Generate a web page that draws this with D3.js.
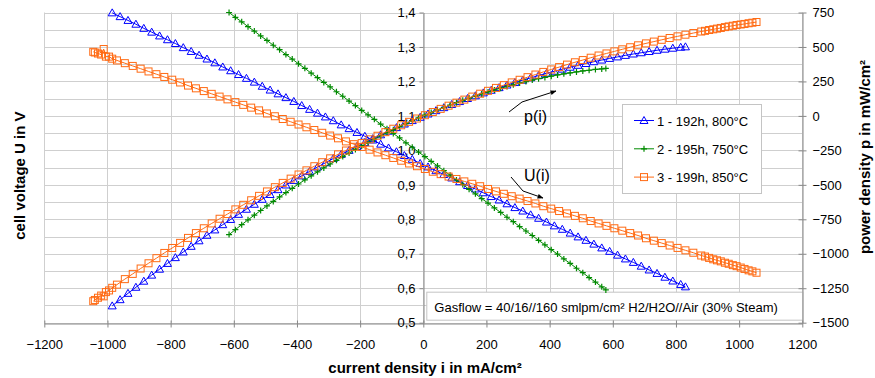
<!DOCTYPE html>
<html><head><meta charset="utf-8">
<script src="https://cdn.jsdelivr.net/npm/d3@7"></script>
<style>body{margin:0;background:#fff}svg{display:block;font-family:"Liberation Sans",Arial,sans-serif}</style>
</head><body><svg id="c" width="875" height="378"></svg>
<script>
// Series 1: 192h, 800°C
const s1_i = [-985,-960,-935,-910,-885,-860,-835,-810,-785,-760,-735,-710,-685,-660,-635,-610,-585,-560,-535,-510,-485,-460,-435,-410,-385,-360,-335,-310,-285,-260,-235,-210,-185,-160,-135,-110,-85,-60,-35,-10,15,40,65,90,115,140,165,190,215,240,265,290,315,340,365,390,415,440,465,490,515,540,565,590,615,640,665,690,715,740,765,790,815,830];
const s1_U = [1.399,1.388,1.377,1.366,1.354,1.343,1.332,1.321,1.310,1.298,1.287,1.276,1.265,1.254,1.242,1.231,1.220,1.209,1.198,1.186,1.175,1.164,1.153,1.142,1.130,1.119,1.108,1.097,1.086,1.074,1.063,1.052,1.041,1.030,1.018,1.007,0.996,0.985,0.974,0.962,0.952,0.941,0.930,0.920,0.909,0.898,0.888,0.877,0.866,0.856,0.845,0.834,0.824,0.813,0.803,0.792,0.781,0.771,0.760,0.749,0.739,0.728,0.717,0.707,0.696,0.685,0.675,0.664,0.653,0.643,0.632,0.621,0.611,0.604];
const s1_p = [-1378,-1333,-1287,-1243,-1199,-1155,-1112,-1070,-1028,-987,-946,-906,-866,-827,-789,-751,-714,-677,-641,-605,-570,-535,-501,-468,-435,-403,-371,-340,-309,-279,-250,-221,-193,-165,-137,-111,-85,-59,-34,-10,14,38,60,83,104,126,146,167,186,205,224,242,259,276,293,309,324,339,353,367,380,393,405,417,428,439,449,458,467,476,484,491,498,501];
// Series 2: 195h, 750°C
const s2_i = [-615,-595,-575,-555,-535,-515,-495,-475,-455,-435,-415,-395,-375,-355,-335,-315,-295,-275,-255,-235,-215,-195,-175,-155,-135,-115,-95,-75,-55,-35,-15,5,25,45,65,85,105,125,145,165,185,205,225,245,265,285,305,325,345,365,385,405,425,445,465,485,505,525,545,565,578];
const s2_U = [1.400,1.386,1.373,1.359,1.346,1.332,1.319,1.305,1.292,1.278,1.265,1.251,1.238,1.224,1.211,1.197,1.184,1.170,1.157,1.143,1.130,1.116,1.103,1.090,1.076,1.063,1.049,1.036,1.022,1.009,0.995,0.982,0.968,0.955,0.941,0.928,0.914,0.901,0.887,0.874,0.860,0.847,0.833,0.820,0.806,0.793,0.779,0.766,0.753,0.739,0.726,0.712,0.699,0.685,0.672,0.658,0.645,0.631,0.618,0.604,0.595];
const s2_p = [-861,-825,-789,-754,-720,-686,-653,-620,-588,-556,-525,-494,-464,-435,-406,-377,-349,-322,-295,-269,-243,-218,-193,-169,-145,-122,-100,-78,-56,-35,-15,5,24,43,61,79,96,113,129,144,159,174,188,201,214,226,238,249,260,270,279,288,297,305,312,319,326,331,337,341,344];
// Series 3: 199h, 850°C
const s3_i = [-1045,-1040,-1030,-1020,-1012,-1005,-995,-985,-970,-945,-920,-895,-870,-845,-820,-795,-770,-745,-720,-695,-670,-645,-620,-595,-570,-545,-520,-495,-470,-445,-420,-395,-370,-345,-320,-295,-270,-245,-220,-195,-170,-145,-120,-95,-70,-45,-20,5,30,55,80,105,130,155,180,205,230,255,280,305,330,355,380,405,430,455,480,505,530,555,580,605,630,655,680,705,730,755,780,805,830,855,880,892,905,918,930,942,955,967,980,992,1005,1017,1030,1042,1055];
const s3_U = [1.286,1.284,1.281,1.278,1.294,1.272,1.272,1.266,1.261,1.253,1.245,1.237,1.229,1.221,1.213,1.205,1.197,1.188,1.180,1.172,1.164,1.156,1.148,1.140,1.132,1.124,1.116,1.107,1.099,1.091,1.083,1.075,1.067,1.059,1.051,1.043,1.035,1.026,1.018,1.010,1.002,0.994,0.986,0.978,0.970,0.962,0.954,0.946,0.938,0.931,0.924,0.917,0.910,0.903,0.896,0.888,0.881,0.874,0.867,0.860,0.853,0.846,0.838,0.831,0.824,0.817,0.810,0.803,0.795,0.788,0.781,0.774,0.767,0.760,0.753,0.745,0.738,0.731,0.724,0.717,0.710,0.703,0.695,0.692,0.688,0.684,0.681,0.678,0.674,0.671,0.667,0.664,0.660,0.656,0.652,0.649,0.645];
const s3_p = [-1344,-1335,-1319,-1303,-1309,-1278,-1266,-1247,-1224,-1184,-1146,-1107,-1069,-1032,-994,-958,-921,-885,-850,-815,-780,-746,-712,-678,-645,-612,-580,-548,-517,-486,-455,-425,-395,-365,-336,-308,-279,-251,-224,-197,-170,-144,-118,-93,-68,-43,-19,5,28,51,74,96,118,140,161,182,203,223,243,262,281,300,319,337,354,372,389,405,422,438,453,468,483,498,512,526,539,552,565,577,589,601,612,617,623,628,633,638,644,649,654,659,663,667,672,676,681];

const xTicks = [-1200,-1000,-800,-600,-400,-200,0,200,400,600,800,1000,1200];
const uTicks = [1.4,1.3,1.2,1.1,1.0,0.9,0.8,0.7,0.6,0.5];
const pTicks = [750,500,250,0,-250,-500,-750,-1000,-1250,-1500];
const seriesNames = ["1 - 192h, 800°C","2 - 195h, 750°C","3 - 199h, 850°C"];
const seriesColors = ["#0000ff","#008a00","#ff6a13"];

const svg = d3.select("#c");
const L=44.3, R=802.3, T=12.5, B=322.7;
const x = d3.scaleLinear().domain([-1200,1200]).range([L,R]);
const yU = d3.scaleLinear().domain([0.5,1.4]).range([B,T]);
const yP = d3.scaleLinear().domain([-1500,750]).range([B,T]);

// gridlines
const grid = svg.append("g").attr("stroke","#cfcfcf").attr("stroke-width",1);
d3.range(0.5,1.4001,0.05).forEach(v=>{
  const y=Math.round(yU(v))+0.5;
  grid.append("line").attr("x1",L).attr("x2",R).attr("y1",y).attr("y2",y);
});
xTicks.forEach(v=>{
  const xx=Math.round(x(v))+0.5;
  grid.append("line").attr("x1",xx).attr("x2",xx).attr("y1",T).attr("y2",B);
});

// annotation box
const ann = svg.append("g");
ann.append("rect").attr("x",x(0)+3.5).attr("y",yU(0.59)+0.5).attr("width",R-x(0)-3).attr("height",28)
  .attr("fill","#fff").attr("stroke","#c4c4c4");
ann.append("text").attr("x",x(0)+11).attr("y",yU(0.59)+20).attr("font-size",13).attr("fill","#000")
  .text("Gasflow = 40/16//160 smlpm/cm² H2/H2O//Air (30% Steam)");

// axes
const axB = svg.append("g").attr("transform",`translate(0,${Math.round(B)+0.5})`)
  .call(d3.axisBottom(x).tickValues(xTicks).tickSize(4).tickSizeOuter(0).tickFormat(d3.format("d")));
axB.select(".domain").attr("stroke","#888");
axB.selectAll(".tick line").attr("stroke","#888").attr("y1",-3);
axB.selectAll("text").attr("font-size",13).attr("font-family","Liberation Sans, Arial").attr("y",10).attr("dy","1.2em").attr("fill","#000");

const fmtU = v=>d3.format(".1f")(v).replace(".",",");
const axU = svg.append("g").attr("transform",`translate(${Math.round(x(0))+0.5},0)`)
  .call(d3.axisLeft(yU).tickValues(uTicks).tickSize(4).tickSizeOuter(0).tickFormat(fmtU));
axU.select(".domain").attr("stroke","#888");
axU.selectAll(".tick line").attr("stroke","#888");
axU.selectAll("text").attr("font-size",13).attr("font-family","Liberation Sans, Arial").attr("x",-8).attr("fill","#000");

const axP = svg.append("g").attr("transform",`translate(${Math.round(R)+0.5},0)`)
  .call(d3.axisRight(yP).tickValues(pTicks).tickSize(4).tickSizeOuter(0).tickFormat(d3.format("d")));
axP.select(".domain").attr("stroke","#888");
axP.selectAll(".tick line").attr("stroke","#888").attr("x1",-4);
axP.selectAll("text").attr("font-size",13).attr("font-family","Liberation Sans, Arial").attr("x",10).attr("fill","#000");

// series
const series = [
  {i:s1_i,U:s1_U,p:s1_p,m:"tri"},
  {i:s2_i,U:s2_U,p:s2_p,m:"plus"},
  {i:s3_i,U:s3_U,p:s3_p,m:"sq"}
];
function marker(g, m, cx, cy, col){
  if(m==="tri"){
    g.append("path").attr("d",`M${cx},${cy-4}L${cx+4},${cy+3}L${cx-4},${cy+3}Z`).attr("fill","none").attr("stroke",col).attr("stroke-width",1);
  } else if(m==="sq"){
    g.append("rect").attr("x",cx-3.5).attr("y",cy-3.5).attr("width",7).attr("height",7).attr("fill","none").attr("stroke",col).attr("stroke-width",1);
  } else {
    g.append("path").attr("d",`M${cx-3},${cy}H${cx+3}M${cx},${cy-3}V${cy+3}`).attr("stroke",col).attr("stroke-width",1.2);
  }
}
[0,1,2].forEach(k=>{
  const s=series[k], col=seriesColors[k];
  const g=svg.append("g");
  const ptsU=s.i.map((v,j)=>[x(v),yU(s.U[j])]);
  const ptsP=s.i.map((v,j)=>[x(v),yP(s.p[j])]);
  [ptsU,ptsP].forEach(pts=>{
    g.append("path").attr("d",d3.line()(pts)).attr("fill","none").attr("stroke",col).attr("stroke-width",1);
    pts.forEach(pt=>marker(g,s.m,pt[0],pt[1],col));
  });
});

// legend
const lg = svg.append("g");
lg.append("rect").attr("x",622.5).attr("y",104.5).attr("width",139).attr("height",89).attr("fill","#fff").attr("stroke","#c4c4c4");
seriesNames.forEach((n,k)=>{
  const yy=120.5+k*28.3;
  lg.append("line").attr("x1",634).attr("x2",654).attr("y1",yy).attr("y2",yy).attr("stroke",seriesColors[k]);
  marker(lg,series[k].m,644,yy,seriesColors[k]);
  lg.append("text").attr("x",657).attr("y",yy+5).attr("font-size",13).text(n);
});

// annotations p(i), U(i)
svg.append("defs").append("marker").attr("id","ar").attr("viewBox","0 0 10 10").attr("refX",9).attr("refY",5)
  .attr("markerWidth",6).attr("markerHeight",6).attr("orient","auto")
  .append("path").attr("d","M0,1L10,5L0,9Z").attr("fill","#000");
svg.append("path").attr("d","M509,112L522,102L556,91").attr("fill","none").attr("stroke","#000").attr("marker-end","url(#ar)");
svg.append("path").attr("d","M511,177L523,191L543,198").attr("fill","none").attr("stroke","#000").attr("marker-end","url(#ar)");
svg.append("text").attr("x",524).attr("y",122).attr("font-size",16).text("p(i)");
svg.append("text").attr("x",524).attr("y",181).attr("font-size",16).text("U(i)");

// axis titles
svg.append("text").attr("transform",`translate(25,${(T+B)/2+8}) rotate(-90)`).attr("text-anchor","middle")
  .attr("font-size",15).attr("font-weight","bold").text("cell voltage U in V");
svg.append("text").attr("transform",`translate(870,157) rotate(-90)`).attr("text-anchor","middle")
  .attr("font-size",15).attr("font-weight","bold").text("power density p in mW/cm²");
svg.append("text").attr("x",425).attr("y",373).attr("text-anchor","middle")
  .attr("font-size",15).attr("font-weight","bold").text("current density i in mA/cm²");
</script></body></html>
